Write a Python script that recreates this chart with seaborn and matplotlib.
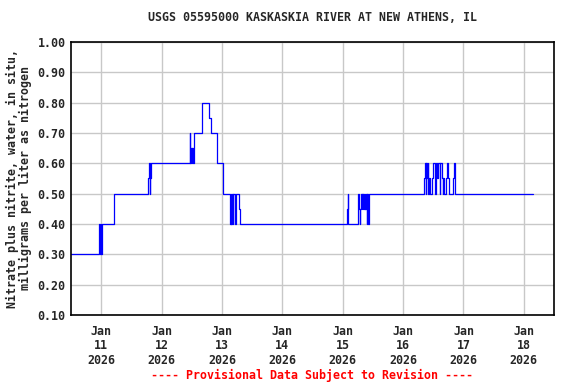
import pandas as pd
import matplotlib
matplotlib.use("Agg")
import matplotlib.pyplot as plt
import seaborn as sns

# Change points of the 15-minute record (value holds until the next time)
change_times = [
    "2026-01-10 12:00", "2026-01-10 23:15", "2026-01-10 23:30", "2026-01-10 23:45",
    "2026-01-11 00:00", "2026-01-11 00:15", "2026-01-11 05:00", "2026-01-11 05:15",
    "2026-01-11 18:45", "2026-01-11 19:00", "2026-01-11 19:15", "2026-01-11 19:30",
    "2026-01-11 19:45",
    "2026-01-12 11:15", "2026-01-12 11:30", "2026-01-12 11:45", "2026-01-12 12:00",
    "2026-01-12 12:15", "2026-01-12 12:30", "2026-01-12 12:45", "2026-01-12 16:00",
    "2026-01-12 19:00", "2026-01-12 19:30", "2026-01-12 22:00",
    "2026-01-13 00:15", "2026-01-13 00:30", "2026-01-13 03:15", "2026-01-13 03:30",
    "2026-01-13 03:45", "2026-01-13 04:00", "2026-01-13 04:15", "2026-01-13 04:30",
    "2026-01-13 05:00", "2026-01-13 05:15", "2026-01-13 05:30", "2026-01-13 06:45",
    "2026-01-13 07:15",
    "2026-01-15 01:45", "2026-01-15 02:00", "2026-01-15 02:15", "2026-01-15 06:15",
    "2026-01-15 06:30", "2026-01-15 06:45", "2026-01-15 07:00", "2026-01-15 07:15",
    "2026-01-15 07:30", "2026-01-15 07:45", "2026-01-15 08:00", "2026-01-15 08:15",
    "2026-01-15 08:30", "2026-01-15 08:45", "2026-01-15 09:00", "2026-01-15 09:15",
    "2026-01-15 09:30", "2026-01-15 09:45", "2026-01-15 10:00", "2026-01-15 10:15",
    "2026-01-15 10:30",
    "2026-01-16 08:30", "2026-01-16 08:45", "2026-01-16 09:00", "2026-01-16 09:15",
    "2026-01-16 09:30", "2026-01-16 09:45", "2026-01-16 10:00", "2026-01-16 10:30",
    "2026-01-16 10:45", "2026-01-16 11:30", "2026-01-16 12:00", "2026-01-16 12:30",
    "2026-01-16 13:15", "2026-01-16 13:30", "2026-01-16 13:45", "2026-01-16 14:30",
    "2026-01-16 14:45", "2026-01-16 15:30", "2026-01-16 15:45", "2026-01-16 16:00",
    "2026-01-16 16:15", "2026-01-16 17:15", "2026-01-16 17:30", "2026-01-16 17:45",
    "2026-01-16 18:15", "2026-01-16 19:45", "2026-01-16 20:15", "2026-01-16 20:30",
    "2026-01-18 03:45",
]
change_values = [
    0.30, 0.40, 0.30, 0.40,
    0.30, 0.40, 0.45, 0.50,
    0.55, 0.60, 0.50, 0.55,
    0.60,
    0.70, 0.60, 0.65, 0.60,
    0.65, 0.60, 0.70, 0.80,
    0.75, 0.70, 0.60,
    0.55, 0.50, 0.40, 0.50,
    0.40, 0.50, 0.40, 0.50,
    0.45, 0.40, 0.50, 0.45,
    0.40,
    0.45, 0.50, 0.40, 0.50,
    0.45, 0.40, 0.45, 0.50,
    0.45, 0.50, 0.45, 0.50,
    0.45, 0.50, 0.45, 0.50,
    0.40, 0.50, 0.45, 0.40,
    0.50,
    0.55, 0.60, 0.50, 0.60,
    0.55, 0.60, 0.50, 0.55,
    0.50, 0.55, 0.60, 0.50,
    0.60, 0.55, 0.60, 0.50,
    0.60, 0.55, 0.50, 0.55,
    0.50, 0.55, 0.60, 0.55,
    0.50, 0.55, 0.60, 0.50,
    0.50,
]

tick_days = ["2026-01-11", "2026-01-12", "2026-01-13", "2026-01-14",
             "2026-01-15", "2026-01-16", "2026-01-17", "2026-01-18"]
y_ticks = [0.10, 0.20, 0.30, 0.40, 0.50, 0.60, 0.70, 0.80, 0.90, 1.00]

df = pd.DataFrame({"time": pd.to_datetime(change_times), "value": change_values})

sns.set_style("white")
plt.rcParams["font.family"] = ["DejaVu Sans Mono"]
plt.rcParams["font.weight"] = "bold"

fig = plt.figure(figsize=(5.76, 3.84), dpi=100)
ax = fig.add_axes([71 / 576, 1 - 315 / 384, (554 - 71) / 576, (315 - 42) / 384])

sns.lineplot(data=df, x="time", y="value", ax=ax, color="#0000ff",
             linewidth=0.9, drawstyle="steps-post", estimator=None)

ax.set_xlim(pd.Timestamp("2026-01-10 12:00"), pd.Timestamp("2026-01-18 12:00"))
ax.set_ylim(0.10, 1.00)
ax.set_yticks(y_ticks)
ax.set_yticklabels([f"{v:.2f}" for v in y_ticks], fontweight="bold")
ticks = pd.to_datetime(tick_days)
ax.set_xticks(ticks)
ax.set_xticklabels([f"{t:%b}\n{t.day}\n{t:%Y}" for t in ticks],
                   linespacing=1.15, fontweight="bold")

ax.grid(True, color="#c8c8c8", linewidth=1)
ax.set_axisbelow(True)
for s in ax.spines.values():
    s.set_color("black")
    s.set_linewidth(1.2)
ax.tick_params(axis="both", length=0, labelsize=8.4)
ax.tick_params(axis="x", pad=7)
ax.tick_params(axis="y", pad=4)

ax.set_xlabel("")
ax.set_ylabel("Nitrate plus nitrite, water, in situ,\nmilligrams per liter as nitrogen",
              fontsize=8.4, fontweight="bold", linespacing=1.0, labelpad=4)
ax.set_title("USGS 05595000 KASKASKIA RIVER AT NEW ATHENS, IL",
             fontsize=8.4, fontweight="bold", pad=15)
fig.text(312 / 576, 1 - 375 / 384, "---- Provisional Data Subject to Revision ----",
         color="red", fontsize=8.4, fontweight="bold", ha="center", va="center")

fig.savefig("out.png", dpi=100)
